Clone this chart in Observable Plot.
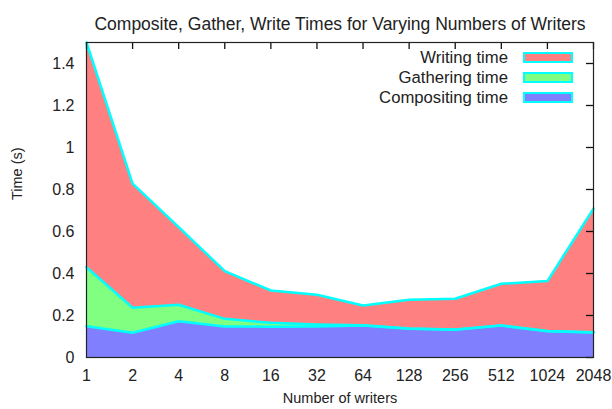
<!DOCTYPE html>
<html>
<head>
<meta charset="utf-8">
<script src="https://cdn.jsdelivr.net/npm/d3@7"></script>
<script src="https://cdn.jsdelivr.net/npm/@observablehq/plot@0.6"></script>
<style>
  body { margin: 0; background: #fff; }
  #wrap { position: relative; width: 612px; height: 409px; font-family: "Liberation Sans", Arial, sans-serif; }
  .leg { position: absolute; left: 0; width: 100%; height: 20px; }
  .leg span.t { position: absolute; right: 104px; top: 0; font-size: 16.7px; line-height: 20px; color: #222; white-space: nowrap; }
  .leg span.s { position: absolute; left: 523px; top: 4px; width: 46px; height: 7px; border: 2px solid #00ffff; }
</style>
</head>
<body>
<div id="wrap"></div>
<script>
const title = "Composite, Gather, Write Times for Varying Numbers of Writers";
const xLabel = "Number of writers";
const yLabel = "Time (s)";
const writers = [1, 2, 4, 8, 16, 32, 64, 128, 256, 512, 1024, 2048];
const compositing = [0.149, 0.118, 0.173, 0.148, 0.147, 0.148, 0.152, 0.137, 0.132, 0.152, 0.125, 0.119];
const gathering   = [0.281, 0.119, 0.078, 0.036, 0.018, 0.009, 0.001, 0.001, 0.001, 0.001, 0.001, 0.001];
const writing     = [1.070, 0.591, 0.370, 0.227, 0.154, 0.142, 0.095, 0.137, 0.147, 0.198, 0.238, 0.589];
const yTicks = [0, 0.2, 0.4, 0.6, 0.8, 1, 1.2, 1.4];
const seriesNames = ["Compositing time", "Gathering time", "Writing time"];
const seriesColors = ["#8080ff", "#80ff80", "#ff8080"];
const legendOrder = ["Writing time", "Gathering time", "Compositing time"];

const seriesValues = [compositing, gathering, writing];
const data = [];
seriesNames.forEach((s, i) => writers.forEach((w, j) => data.push({writers: w, series: s, value: seriesValues[i][j]})));

const W = 612, H = 409, mL = 86, mR = 19, mT = 42, mB = 52, tick = 7;
const frameW = W - mL - mR, frameH = H - mT - mB;

const chart = Plot.plot({
  width: W,
  height: H,
  marginLeft: mL,
  marginRight: mR,
  marginTop: mT,
  marginBottom: mB,
  style: {fontFamily: "'Liberation Sans', Arial, sans-serif", fontSize: "16px", color: "#222", background: "#fff"},
  x: {type: "log", base: 2, domain: [1, 2048], ticks: writers, tickFormat: d => String(d), label: null},
  y: {domain: [0, 1.5], ticks: yTicks, tickFormat: d => String(d), label: null},
  color: {domain: seriesNames, range: seriesColors},
  marks: [
    Plot.axisX({ticks: writers, tickSize: 0, tickPadding: 12, tickFormat: d => String(d), label: null, fontSize: 16}),
    Plot.axisY({ticks: yTicks, tickSize: 0, tickPadding: 12, tickFormat: d => String(d), label: null, fontSize: 16}),
    Plot.areaY(data, {x: "writers", y: "value", fill: "series", z: "series", order: seriesNames}),
    Plot.line(data, Plot.stackY2({x: "writers", y: "value", z: "series", order: seriesNames, stroke: "#00ffff", strokeWidth: 2.5})),
    Plot.ruleX(writers, {x: d => d, insetBottom: frameH - tick, stroke: "#111", strokeWidth: 1.3}),
    Plot.ruleY(yTicks, {y: d => d, insetLeft: frameW - tick, stroke: "#111", strokeWidth: 1.3}),
    Plot.frame({stroke: "#222", strokeWidth: 1.2}),
    Plot.text([title], {frameAnchor: "top", dy: -25, fontSize: 17.5, fill: "#222"}),
    Plot.text([xLabel], {frameAnchor: "bottom", dy: 45, fontSize: 14.5, fill: "#222"}),
    Plot.text([yLabel], {frameAnchor: "left", dx: -69, rotate: -90, fontSize: 14.5, fill: "#222"})
  ]
});

const wrap = document.getElementById("wrap");
wrap.appendChild(chart);
legendOrder.forEach((name, i) => {
  const row = document.createElement("div");
  row.className = "leg";
  row.style.top = (48 + i * 20) + "px";
  const t = document.createElement("span");
  t.className = "t";
  t.textContent = name;
  const s = document.createElement("span");
  s.className = "s";
  s.style.background = seriesColors[seriesNames.indexOf(name)];
  row.appendChild(t);
  row.appendChild(s);
  wrap.appendChild(row);
});
</script>
</body>
</html>
